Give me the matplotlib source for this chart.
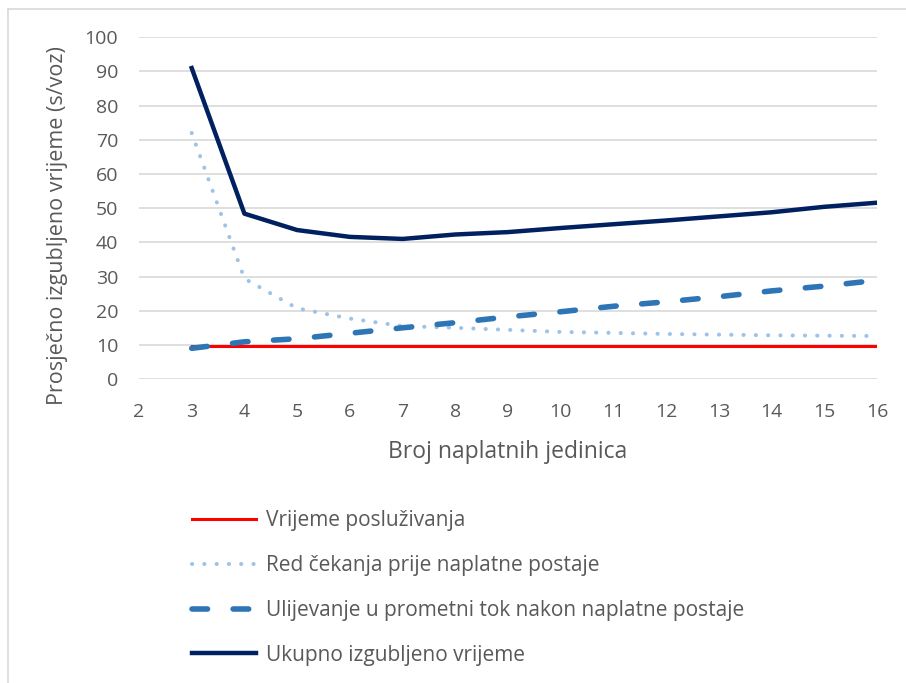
import numpy as np
import matplotlib
matplotlib.use('Agg')
import matplotlib.pyplot as plt
from matplotlib.lines import Line2D

plt.rcParams['font.family'] = ['Open Sans', 'DejaVu Sans']

# data
broj_jedinica = [3, 4, 5, 6, 7, 8, 9, 10, 11, 12, 13, 14, 15, 16]
posluzivanje = [9.7] * 14
red_cekanja = [72.0, 29.4, 20.7, 17.7, 15.5, 15.0, 14.4, 13.8, 13.5, 13.2, 13.0, 12.8, 12.7, 12.6]
ulijevanje = [9.0, 10.9, 11.8, 13.4, 15.0, 16.5, 18.2, 19.7, 21.3, 22.6, 24.1, 25.8, 27.2, 28.9]
ukupno = [91.0, 48.4, 43.6, 41.6, 41.0, 42.3, 43.0, 44.2, 45.3, 46.4, 47.6, 48.8, 50.4, 51.6]

labels = ['Vrijeme posluživanja',
          'Red čekanja prije naplatne postaje',
          'Ulijevanje u prometni tok nakon naplatne postaje',
          'Ukupno izgubljeno vrijeme']

txt_color = '#595959'

fig = plt.figure(figsize=(9.06, 6.83), dpi=100)
ax = fig.add_axes([0.1534, 0.445, 0.8146, 0.5004])

l1, = ax.plot(broj_jedinica, posluzivanje, color='#ff0000', lw=2.2, zorder=2)
l2, = ax.plot(broj_jedinica, red_cekanja, color='#9dc3e6', lw=2.9, linestyle=(0, (0.05, 3.0)),
              dash_capstyle='round', zorder=3)
l3, = ax.plot(broj_jedinica, ulijevanje, color='#2e75b6', lw=4.0, linestyle=(0, (2.8, 4.6)),
              dash_capstyle='round', zorder=4)
l4, = ax.plot(broj_jedinica, ukupno, color='#002060', lw=3.2, zorder=5)

ax.set_xlim(2, 16)
ax.set_ylim(0, 100)
ax.set_xticks(range(2, 17))
ax.set_yticks(range(0, 101, 10))
ax.grid(axis='y', color='#d9d9d9', lw=1.2)
ax.set_axisbelow(True)
for s in ax.spines.values():
    s.set_visible(False)
ax.tick_params(length=0, labelsize=14, colors=txt_color)
ax.tick_params(axis='x', pad=17)
ax.tick_params(axis='y', pad=15)

ax.set_xlabel('Broj naplatnih jedinica', fontsize=16.5, color=txt_color, labelpad=14)
ax.set_ylabel('Prosječno izgubljeno vrijeme (s/voz)', fontsize=15.5, color=txt_color)
ax.yaxis.set_label_coords(-0.096, 0.45)

leg = fig.legend([l1, l2, l3, l4], labels, loc='upper left', bbox_to_anchor=(0.2025, 0.265),
                 frameon=False, fontsize=15, handlelength=3.1, handletextpad=0.48,
                 labelspacing=1.14, borderaxespad=0)
for t in leg.get_texts():
    t.set_color(txt_color)

# chart frame (top and left edges visible)
fig.add_artist(Line2D([0.009, 1.0], [0.987, 0.987], color='#d9d9d9', lw=1.2, transform=fig.transFigure))
fig.add_artist(Line2D([0.009, 0.009], [0.0, 0.987], color='#d9d9d9', lw=1.2, transform=fig.transFigure))

fig.savefig('out.png', dpi=100)
